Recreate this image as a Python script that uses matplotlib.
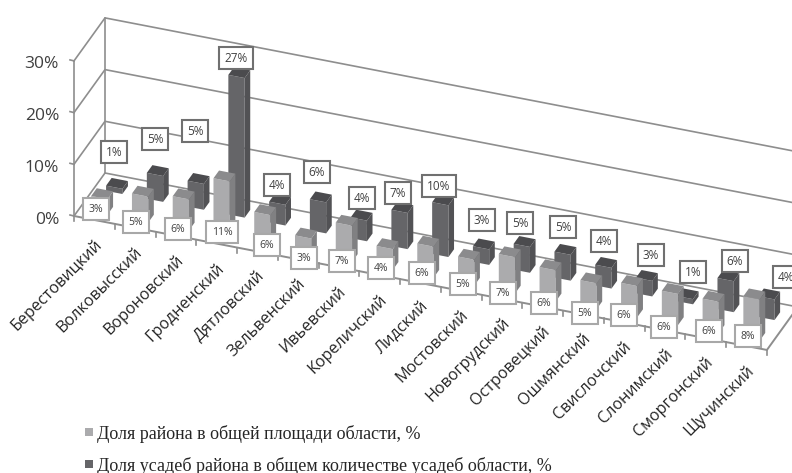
import matplotlib
matplotlib.use("Agg")
import matplotlib.pyplot as plt
from matplotlib.patches import Polygon, Rectangle

# ── Data ───────────────────────────────────────────────────────────────────
districts = [
    "Берестовицкий", "Волковысский", "Вороновский", "Гродненский", "Дятловский",
    "Зельвенский", "Ивьевский", "Кореличский", "Лидский", "Мостовский",
    "Новогрудский", "Островецкий", "Ошмянский", "Свислочский", "Слонимский",
    "Сморгонский", "Щучинский",
]
area_share   = [3, 5, 6, 11, 6, 3, 7, 4, 6, 5, 7, 6, 5, 6, 6, 6, 8]
estate_share = [1, 5, 5, 27, 4, 6, 4, 7, 10, 3, 5, 5, 4, 3, 1, 6, 4]
y_ticks      = [0, 10, 20, 30]
legend_texts = [
    "Доля района в общей площади области, %",
    "Доля усадеб района в общем количестве усадеб области, %",
]

# ── Layout (pixels, same as the reference image) ───────────────────────────
ORIGIN    = (74.0, 216.0)
CAT_STEP  = (40.76, 7.88)
DEPTH_VEC = (31.0, -43.0)
PX_PER_PCT = 5.17
BAR_OFFSET = 0.30
BAR_WIDTH  = 0.40
BAR_DEPTH  = 0.18
AREA_D, ESTATE_D = 0.16, 0.64
GRID = "#8e8e8e"

# where the boxed labels sit in the picture
area_label_pos = [
    (96, 209), (136, 222), (178, 229), (222, 232), (267, 245), (304, 258),
    (342, 261), (381, 268), (422, 273), (463, 284), (503, 293), (544, 303),
    (585, 313), (624, 315), (664, 327), (709, 331), (748, 336),
]
estate_label_pos = [
    (114, 152), (155, 139), (195, 131), (236, 58), (277, 185), (317, 172),
    (362, 198), (398, 193), (439, 186), (482, 220), (520, 223), (563, 227),
    (604, 241), (651, 255), (693, 272), (735, 261), (786, 277),
]


def proj(cat, depth, value=0.0):
    x = ORIGIN[0] + cat * CAT_STEP[0] + depth * DEPTH_VEC[0]
    y = ORIGIN[1] + cat * CAT_STEP[1] + depth * DEPTH_VEC[1] - value * PX_PER_PCT
    return x, y


def draw_bar(ax, cat, depth, value, front, top, side):
    c0, c1 = cat + BAR_OFFSET, cat + BAR_OFFSET + BAR_WIDTH
    d0, d1 = depth, depth + BAR_DEPTH
    ax.add_patch(Polygon([proj(c0, d0, 0), proj(c1, d0, 0), proj(c1, d0, value), proj(c0, d0, value)],
                         fc=front, ec="none", zorder=3))
    ax.add_patch(Polygon([proj(c1, d0, 0), proj(c1, d1, 0), proj(c1, d1, value), proj(c1, d0, value)],
                         fc=side, ec="none", zorder=3))
    ax.add_patch(Polygon([proj(c0, d0, value), proj(c1, d0, value), proj(c1, d1, value), proj(c0, d1, value)],
                         fc=top, ec="none", zorder=3))


fig = plt.figure(figsize=(7.92, 4.73), dpi=100)
ax = fig.add_axes([0, 0, 1, 1])
ax.set_xlim(0, 792)
ax.set_ylim(473, 0)
ax.axis("off")

n = len(districts)

# ── Walls and floor ────────────────────────────────────────────────────────
for v in y_ticks:
    pts = [proj(0, 0, v), proj(0, 1, v), proj(n, 1, v)]
    ax.plot(*zip(*pts), color=GRID, lw=1.2, zorder=1)
    x0, y0 = proj(0, 0, v)
    ax.plot([x0 - 4, x0], [y0 - 1, y0], color=GRID, lw=1.2, zorder=1)
    ax.text(x0 - 15, y0 + 3.5, f"{v}%", ha="right", va="center", fontsize=12.5,
            family="Open Sans", color="#404040")
ax.plot(*zip(proj(0, 0, 0), proj(0, 0, y_ticks[-1])), color=GRID, lw=1.2, zorder=1)
ax.plot(*zip(proj(0, 1, 0), proj(0, 1, y_ticks[-1])), color=GRID, lw=1.2, zorder=1)
ax.plot(*zip(proj(0, 0), proj(n, 0), proj(n, 1)), color=GRID, lw=1.4, zorder=2)

for k in range(n + 1):
    x, y = proj(k, 0)
    ax.plot([x, x], [y, y + 5], color=GRID, lw=1.2, zorder=2)

# ── Bars (back row first) ──────────────────────────────────────────────────
for k, v in enumerate(estate_share):
    draw_bar(ax, k, ESTATE_D, v, "#656568", "#4b4b4e", "#525255")
for k, v in enumerate(area_share):
    draw_bar(ax, k, AREA_D, v, "#ababad", "#8b8b8d", "#808082")

# ── Boxed value labels ─────────────────────────────────────────────────────
for v, (x, y) in zip(estate_share, estate_label_pos):
    ax.text(x, y, f"{v}%", ha="center", va="center", fontsize=8.5, family="Open Sans",
            color="#404040", zorder=6,
            bbox=dict(boxstyle="square,pad=0.42", fc="white", ec="#707070", lw=1.5))
for v, (x, y) in zip(area_share, area_label_pos):
    ax.text(x, y, f"{v}%", ha="center", va="center", fontsize=7.5, family="Open Sans",
            color="#404040", zorder=5,
            bbox=dict(boxstyle="square,pad=0.55", fc="white", ec="#a8a8a8", lw=1.5))

# ── Category labels ────────────────────────────────────────────────────────
for k, name in enumerate(districts):
    x, y = proj(k + 0.5, 0)
    ax.text(x + 5, y + 22, name, rotation=45, rotation_mode="anchor", ha="right", va="center",
            fontsize=11.6, family="Open Sans", color="#262626")

# ── Legend ─────────────────────────────────────────────────────────────────
for text, colour, y in zip(legend_texts, ["#ababad", "#656568"], [432, 463.5]):
    ax.add_patch(Rectangle((85, y - 4), 8, 8, fc=colour, ec="none"))
    ax.text(97, y + 2, text, ha="left", va="center", fontsize=13,
            family="Liberation Serif", color="#262626")

fig.savefig("out.png", dpi=100)
